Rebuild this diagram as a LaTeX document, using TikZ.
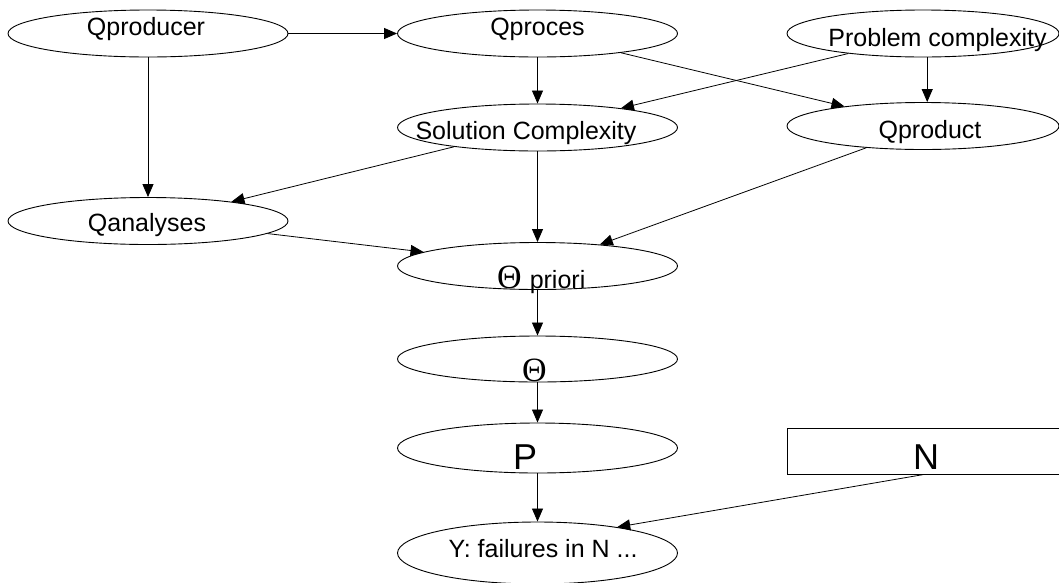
\documentclass[tikz,border=0pt]{standalone}
\usepackage{fontspec}
\setmainfont{Liberation Sans}
\newfontfamily\thetafont{Liberation Serif}
\usetikzlibrary{arrows.meta,shapes.geometric}

\begin{document}
\begin{tikzpicture}[x=1pt,y=-1pt,
  bub/.style={ellipse, draw, line width=0.9pt, minimum width=280pt, minimum height=47pt, inner sep=0pt},
  bubr/.style={bub, minimum width=272pt},
  lbl/.style={anchor=base, inner sep=0pt, font=\fontsize{25}{30}\selectfont},
  big/.style={anchor=base, inner sep=0pt, font=\fontsize{36}{40}\selectfont},
  thfont/.style={font=\thetafont\fontsize{34}{40}\selectfont},
  link/.style={-{Triangle[length=13pt,width=11pt]}, line width=0.8pt}]
\useasboundingbox (0,0) rectangle (1059,582);

% node outlines
\node[bub]  (qproducer) at (148,33.5)   {};
\node[bub]  (qproces)   at (537.5,33.5) {};
\node[bubr] (probcomp)  at (923,33.5)   {};
\node[bub]  (solcomp)   at (537.5,127.5) {};
\node[bubr] (qproduct)  at (923,126)    {};
\node[bub]  (qanalyses) at (148,221)    {};
\node[bub]  (thetap)    at (537.5,266)  {};
\node[bub, minimum height=46pt] (theta) at (537.5,359) {};
\node[bub, minimum height=50pt] (p)     at (537.5,448) {};
\node[draw, rectangle, line width=0.9pt, minimum width=274pt, minimum height=46pt, inner sep=0pt] (n) at (924,451) {};
\node[bub, minimum height=62pt] (y) at (537.5,553) {};

% node texts
\node[lbl] (tqproducer) at (146,35)    {Qproducer};
\node[lbl] (tqproces)   at (537.5,35)  {Qproces};
\node[lbl] (tprobcomp)  at (937.5,46)  {Problem complexity};
\node[lbl] (tsolcomp)   at (526,139)   {Solution Complexity};
\node[lbl] (tqproduct)  at (930,138)   {Qproduct};
\node[lbl] (tqanalyses) at (147,231)   {Qanalyses};
\node[lbl, anchor=base west] (tthetap) at (497,288)
  {{\thetafont\fontsize{34}{40}\selectfont Θ}\hspace{8pt}priori};
\node[lbl, thfont] (ttheta) at (534.5,381) {Θ};
\node[big] (tp) at (525,469) {P};
\node[big] (tn) at (926,469) {N};
\node[lbl] (ty) at (543,557) {Y: failures in N ...};

% dependencies
\draw[link] (qproducer.east)  -- (qproces.west);
\draw[link] (qproducer.south) -- (qanalyses.north);
\draw[link] (qproces.south)   -- (solcomp.north);
\draw[link] (qproces.-13.6)   -- (qproduct.166.3);
\draw[link] (probcomp.-165.6) -- (solcomp.13.9);
\draw[link] (probcomp.-80.3)  -- (qproduct.80.3);
\draw[link] (solcomp.-167.3)  -- (qanalyses.13);
\draw[link] (solcomp.south)   -- (thetap.north);
\draw[link] (qproduct.-159.4) -- (thetap.19.3);
\draw[link] (qanalyses.-6.3)  -- (thetap.173.4);
\draw[link] (thetap.south)    -- (theta.north);
\draw[link] (theta.south)     -- (p.north);
\draw[link] (p.south)         -- (y.north);
\draw[link] (n.south)         -- (y.18);
\end{tikzpicture}
\end{document}
